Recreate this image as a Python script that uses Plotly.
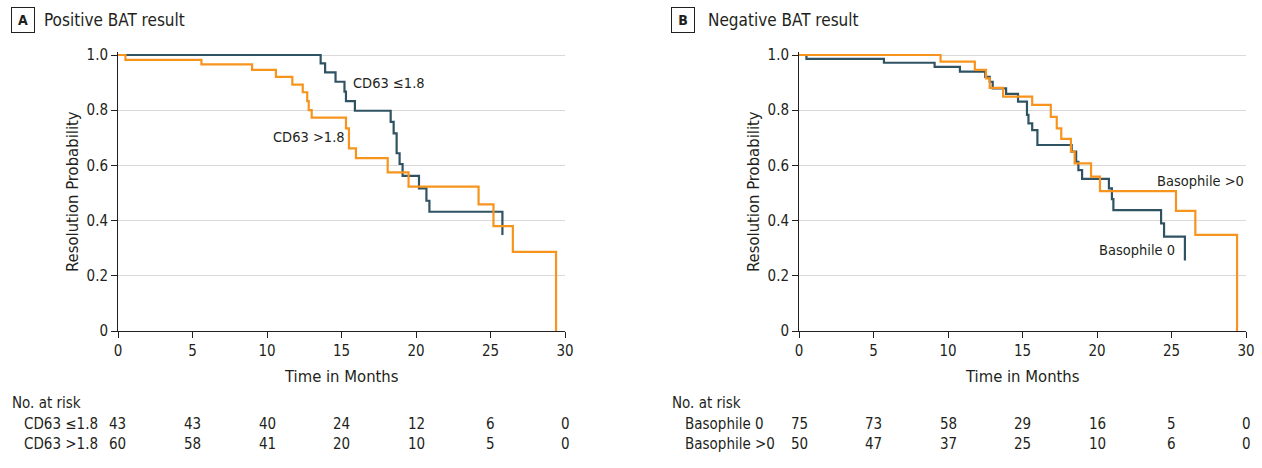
import plotly.graph_objects as go

# ---------------- data ----------------
# Panel A: Positive BAT result
a_low_t = [0, 13.6, 13.9, 14.6, 15.2, 15.3, 15.9, 18.3, 18.5, 18.7, 18.9, 19.1, 20.2, 20.7, 20.9, 25.8]
a_low_s = [1.0, 0.970, 0.937, 0.903, 0.867, 0.833, 0.798, 0.758, 0.716, 0.644, 0.605, 0.562, 0.517, 0.472, 0.432, 0.348]
a_high_t = [0, 0.5, 5.6, 9.0, 10.6, 11.7, 12.4, 12.7, 12.8, 13.0, 15.3, 15.5, 15.97, 18.1, 19.5, 24.2, 25.2, 26.5, 29.4]
a_high_s = [1.0, 0.982, 0.966, 0.946, 0.921, 0.893, 0.865, 0.833, 0.800, 0.773, 0.734, 0.662, 0.626, 0.575, 0.523, 0.459, 0.380, 0.287, 0.0]

# Panel B: Negative BAT result
b_zero_t = [0, 0.5, 5.7, 9.1, 10.8, 12.5, 12.8, 13.0, 13.9, 14.7, 15.3, 15.4, 15.65, 16.0, 18.3, 18.6, 18.75, 19.0, 20.8, 21.0, 21.1, 24.3, 24.5, 25.9]
b_zero_s = [1.0, 0.986, 0.972, 0.957, 0.940, 0.921, 0.903, 0.879, 0.859, 0.831, 0.783, 0.752, 0.728, 0.674, 0.650, 0.613, 0.583, 0.551, 0.517, 0.478, 0.438, 0.390, 0.342, 0.255]
b_pos_t = [0, 9.5, 11.8, 12.55, 12.8, 13.7, 15.65, 16.9, 17.3, 17.6, 18.25, 18.5, 19.6, 20.2, 25.3, 26.6, 29.4]
b_pos_s = [1.0, 0.976, 0.946, 0.915, 0.881, 0.849, 0.819, 0.776, 0.734, 0.696, 0.650, 0.607, 0.559, 0.507, 0.435, 0.348, 0.0]

x_ticks = [0, 5, 10, 15, 20, 25, 30]
y_ticks = [0, 0.2, 0.4, 0.6, 0.8, 1.0]
y_ticktext = ["0", "0.2", "0.4", "0.6", "0.8", "1.0"]

risk_times = [0, 5, 10, 15, 20, 25, 30]
risk_a_low = [43, 43, 40, 24, 12, 6, 0]
risk_a_high = [60, 58, 41, 20, 10, 5, 0]
risk_b_zero = [75, 73, 58, 29, 16, 5, 0]
risk_b_pos = [50, 47, 37, 25, 10, 6, 0]

labels_a = ["CD63 ≤1.8", "CD63 >1.8"]
labels_b = ["Basophile 0", "Basophile >0"]
panel_titles = ["Positive BAT result", "Negative BAT result"]

# ---------------- style ----------------
W, H = 1262, 468
DARK = "#2f5362"
ORANGE = "#f7941d"
TXT = "#231f20"
FONT = "DejaVu Sans Condensed, Roboto, sans-serif"

def px(x):
    return x / W

def py(y):
    return 1 - y / H

fig = go.Figure()

def add_curve(t, s, color, xa, ya):
    fig.add_trace(go.Scatter(x=t, y=s, mode="lines", line=dict(color=color, width=2.2, shape="hv"),
                             xaxis=xa, yaxis=ya, cliponaxis=False, showlegend=False, hoverinfo="skip"))

add_curve(a_low_t, a_low_s, DARK, "x", "y")
add_curve(a_high_t, a_high_s, ORANGE, "x", "y")
add_curve(b_zero_t, b_zero_s, DARK, "x2", "y2")
add_curve(b_pos_t, b_pos_s, ORANGE, "x2", "y2")

# y: value 0 at pixel 331, value 1.0 at pixel 55; range extended slightly so top line is not clipped
Y_TOP = 1.01
ydom = [py(331), py(331 - 276 * Y_TOP)]
xdomA = [px(118), px(565)]
xdomB = [px(799), px(1246)]

xcommon = dict(range=[0, 30], tickvals=x_ticks, ticks="outside", ticklen=6, tickcolor=TXT,
               showline=True, linecolor=TXT, linewidth=1, showgrid=False, zeroline=False,
               automargin=False,
               tickfont=dict(size=15, color=TXT, family=FONT), fixedrange=True)
ycommon = dict(range=[0, Y_TOP], tickvals=y_ticks, ticktext=y_ticktext, ticks="outside", ticklen=6,
               tickcolor=TXT, showline=True, linecolor=TXT, linewidth=1, showgrid=True,
               gridcolor="#d9d9d9", gridwidth=1, zeroline=False, automargin=False,
               tickfont=dict(size=15, color=TXT, family=FONT), fixedrange=True)

fig.update_layout(
    width=W, height=H, margin=dict(l=0, r=0, t=0, b=0, pad=0, autoexpand=False),
    paper_bgcolor="white", plot_bgcolor="white",
    font=dict(family=FONT, color=TXT, size=14),
    xaxis=dict(domain=xdomA, anchor="y", **xcommon),
    yaxis=dict(domain=ydom, anchor="x", **ycommon),
    xaxis2=dict(domain=xdomB, anchor="y2", **xcommon),
    yaxis2=dict(domain=ydom, anchor="x2", **ycommon),
)

ann = []

def text(x, y, s, size=14, xanchor="left", xref="paper", **kw):
    ann.append(dict(x=x, y=y, xref=xref, yref="paper", text=s, showarrow=False,
                    xanchor=xanchor, yanchor="middle", font=dict(size=size, color=TXT, family=FONT), **kw))

# panel titles
for letter, cx, tx, title in [("A", 23, 42, panel_titles[0]), ("B", 683, 706, panel_titles[1])]:
    ann.append(dict(x=px(cx), y=py(20.5), xref="paper", yref="paper", text="<b>" + letter + "</b>",
                    showarrow=False, xanchor="center", yanchor="middle",
                    font=dict(size=14, color=TXT, family=FONT), bordercolor=TXT, borderwidth=1,
                    borderpad=2, width=18, height=20))
    text(px(tx), py(20), title, size=17)

# axis titles
for xc, yl in [((118 + 565) / 2, 72), ((799 + 1246) / 2, 753)]:
    text(px(xc), py(376), "Time in Months", size=16.5, xanchor="center")
    ann.append(dict(x=px(yl), y=py(192), xref="paper", yref="paper", text="Resolution Probability",
                    showarrow=False, textangle=-90, xanchor="center", yanchor="middle",
                    font=dict(size=16.5, color=TXT, family=FONT)))

# curve labels
text(px(351), py(83), labels_a[0], size=14.5)
text(px(271), py(137), labels_a[1], size=14.5)
text(px(1155), py(181), labels_b[1], size=14.5)
text(px(1097), py(250), labels_b[0], size=14.5)

# number at risk tables
text(px(10), py(403), "No. at risk", size=15)
text(px(22), py(424), labels_a[0], size=15)
text(px(22), py(444), labels_a[1], size=15)
text(px(670), py(403), "No. at risk", size=15)
text(px(683), py(424), labels_b[0], size=15)
text(px(683), py(444), labels_b[1], size=15)

for t, v1, v2 in zip(risk_times, risk_a_low, risk_a_high):
    text(t, py(424), str(v1), size=15, xanchor="center", xref="x")
    text(t, py(444), str(v2), size=15, xanchor="center", xref="x")
for t, v1, v2 in zip(risk_times, risk_b_zero, risk_b_pos):
    text(t, py(424), str(v1), size=15, xanchor="center", xref="x2")
    text(t, py(444), str(v2), size=15, xanchor="center", xref="x2")

fig.update_layout(annotations=ann)
fig.write_html("out.html", config={"displayModeBar": False},
               post_script="document.body.style.margin='0px';document.body.style.padding='0px';")
